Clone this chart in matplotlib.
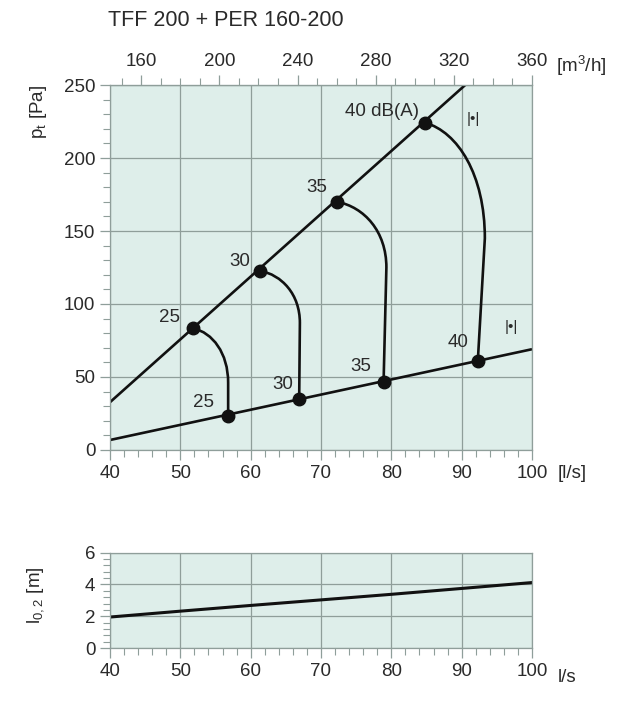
import numpy as np
import matplotlib
matplotlib.use('Agg')
import matplotlib.pyplot as plt
from matplotlib.path import Path
from matplotlib.patches import PathPatch
from matplotlib.ticker import MultipleLocator

plt.rcParams['font.family'] = ['Liberation Sans', 'DejaVu Sans']

# upper (max) and lower (min) system lines, l/s vs Pa
upper_x = [40, 90.5]
upper_y = [32.7, 250]
lower_x = [40, 100]
lower_y = [6.8, 69]

# sound levels and points on the lines
levels = ['25', '30', '35', '40']
top_pts_x = [51.85, 61.3, 72.3, 84.8]
top_pts_y = [83.3, 122.8, 170, 224.2]
bot_pts_x = [56.8, 66.9, 78.9, 92.3]
bot_pts_y = [23.5, 34.7, 46.4, 61]
# where each curve becomes vertical
knee_x = [56.8, 67.0, 79.3, 93.3]
knee_y = [46, 87, 125, 145]

# label positions
top_lbl = ['25', '30', '35', '40 dB(A)']
top_lbl_x = [48.5, 58.4, 69.4, 83.9]
top_lbl_y = [90.6, 129, 180, 232]
bot_lbl_x = [53.3, 64.6, 75.7, 89.5]
bot_lbl_y = [32.4, 44.5, 57.5, 73.5]

# throw length
throw_x = [40, 50, 60, 70, 80, 90, 100]
throw_y = [1.95, 2.32, 2.68, 3.03, 3.38, 3.75, 4.12]

bg = '#deeeea'
gc = '#8f9e9a'
tc = '#2a2a2a'
fs = 13.5

fig = plt.figure(figsize=(6.3, 7.03), dpi=100)
ax = fig.add_axes([0.1746, 0.360, 0.6698, 0.519])
ax2 = fig.add_axes([0.1746, 0.0782, 0.6698, 0.1356])

for a in (ax, ax2):
    a.set_facecolor(bg)
    a.set_xlim(40, 100)
    a.xaxis.set_major_locator(MultipleLocator(10))
    a.xaxis.set_minor_locator(MultipleLocator(2))
    a.grid(True, which='major', color=gc, lw=0.9)
    a.set_axisbelow(True)
    for s in a.spines.values():
        s.set_color(gc)
        s.set_linewidth(0.9)
    a.tick_params(which='both', direction='out', color=gc, labelcolor=tc, labelsize=fs)
    a.tick_params(which='major', length=7, width=0.9)
    a.tick_params(which='minor', length=5, width=0.8)

ax.set_ylim(0, 250)
ax.yaxis.set_major_locator(MultipleLocator(50))
ax.yaxis.set_minor_locator(MultipleLocator(10))
ax.set_ylabel('p$_\\mathregular{t}$ [Pa]', fontsize=fs, color=tc)
ax.yaxis.set_label_coords(-0.145, 0.925)

ax.plot(upper_x, upper_y, color='#111', lw=1.9, solid_capstyle='butt')
ax.plot(lower_x, lower_y, color='#111', lw=1.9, solid_capstyle='butt')

for i in range(len(levels)):
    x0, y0 = top_pts_x[i], top_pts_y[i]
    xk, yk = knee_x[i], knee_y[i]
    x1, y1 = bot_pts_x[i], bot_pts_y[i]
    verts = [(x0, y0),
             (x0 + 0.55 * (xk - x0), y0 - 0.08 * (y0 - yk)),
             (xk, yk + 0.55 * (y0 - yk)),
             (xk, yk),
             (x1, y1)]
    codes = [Path.MOVETO, Path.CURVE4, Path.CURVE4, Path.CURVE4, Path.LINETO]
    ax.add_patch(PathPatch(Path(verts, codes), fill=False, ec='#111', lw=1.9))
    ax.text(top_lbl_x[i], top_lbl_y[i], top_lbl[i], ha='right' if i == 3 else 'center',
            va='center', fontsize=fs, color=tc)
    ax.text(bot_lbl_x[i], bot_lbl_y[i], levels[i], ha='center', va='center', fontsize=fs, color=tc)

ax.plot(top_pts_x, top_pts_y, 'o', color='#111', ms=9, zorder=5)
ax.plot(bot_pts_x, bot_pts_y, 'o', color='#111', ms=9, zorder=5)

ax.text(91.7, 227, '|•|', ha='center', va='center', fontsize=11, color=tc)
ax.text(97.1, 84.5, '|•|', ha='center', va='center', fontsize=11, color=tc)

top = ax.secondary_xaxis('top', functions=(lambda v: v * 3.6, lambda v: v / 3.6))
top.set_xticks(np.arange(160, 361, 40))
top.xaxis.set_minor_locator(MultipleLocator(10))
top.tick_params(which='both', direction='out', color=gc, labelcolor=tc, labelsize=fs)
top.tick_params(which='major', length=7, width=0.9)
top.tick_params(which='minor', length=5, width=0.8)
top.spines['top'].set_color(gc)

fig.text(0.882, 0.907, '[m$^\\mathregular{3}$/h]', fontsize=fs, color=tc, va='center')
fig.text(0.885, 0.326, '[l/s]', fontsize=fs, color=tc, va='center')
fig.text(108 / 630, 1 - 20 / 703, 'TFF 200 + PER 160-200', fontsize=15.5, color=tc, va='center')

ax2.set_ylim(0, 6)
ax2.yaxis.set_major_locator(MultipleLocator(2))
ax2.yaxis.set_minor_locator(MultipleLocator(0.4))
ax2.plot(throw_x, throw_y, color='#111', lw=2.2)
ax2.set_ylabel('l$_\\mathregular{0,2}$ [m]', fontsize=fs, color=tc)
ax2.yaxis.set_label_coords(-0.15, 0.55)
fig.text(0.885, 0.036, 'l/s', fontsize=fs, color=tc, va='center')

fig.savefig('out.png', dpi=100)
